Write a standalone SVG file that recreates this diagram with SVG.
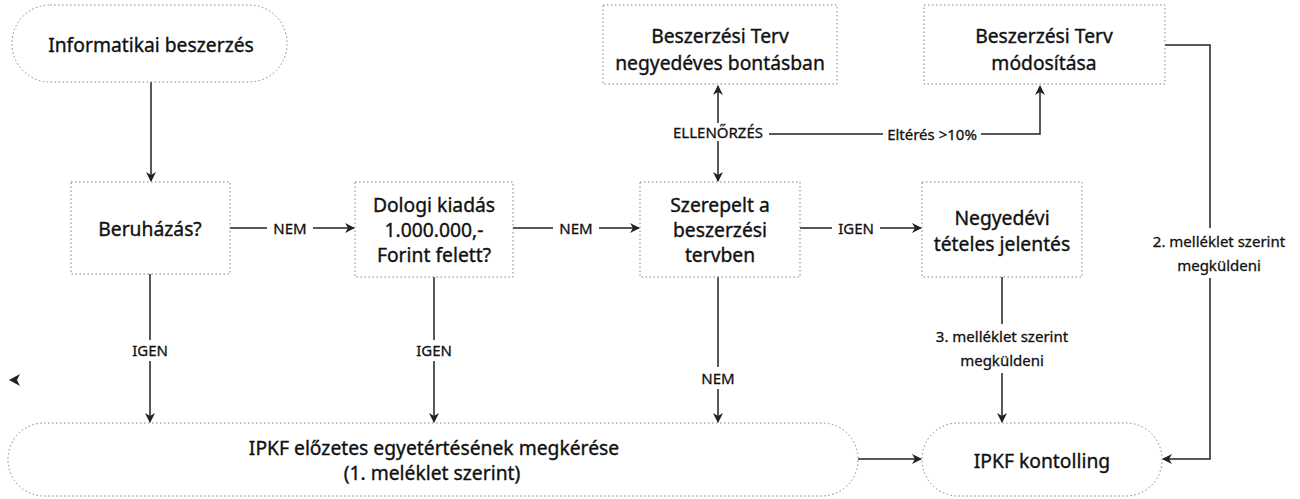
<svg xmlns="http://www.w3.org/2000/svg" width="1300" height="499" viewBox="0 0 1300 499">
<style>
.box{fill:#fff;stroke:#808080;stroke-width:1;stroke-dasharray:1.5 2.5}
.t{font-family:"Noto Sans","Open Sans",sans-serif;font-size:19.3px;fill:#111;stroke:#111;stroke-width:0.35px;text-anchor:middle;dominant-baseline:central}
.lbl{font-family:"Noto Sans","Open Sans",sans-serif;font-size:15px;fill:#111;stroke:#111;stroke-width:0.3px;text-anchor:middle;dominant-baseline:central}
.c{fill:none;stroke:#222;stroke-width:1.5}
</style>
<defs>
<marker id="ah" viewBox="0 0 10 10" refX="9" refY="5" markerWidth="10" markerHeight="10" markerUnits="userSpaceOnUse" orient="auto">
<path d="M0,0 L10,5 L0,10 L3,5 z" fill="#222"/>
</marker>
</defs>
<g id="connectors">
<path class="c" d="M151,82 V181" marker-end="url(#ah)"/>
<path class="c" d="M230,228 H267 M313,228 H354" marker-end="url(#ah)"/>
<path class="c" d="M513,228 H553 M599,228 H639" marker-end="url(#ah)"/>
<path class="c" d="M800,228 H832 M880,228 H921" marker-end="url(#ah)"/>
<path class="c" d="M150,274 V340 M150,361 V422" marker-end="url(#ah)"/>
<path class="c" d="M434,277 V340 M434,361 V422" marker-end="url(#ah)"/>
<path class="c" d="M718,277 V367 M718,389 V422" marker-end="url(#ah)"/>
<path class="c" d="M1002,277 V324 M1002,373 V422" marker-end="url(#ah)"/>
<path class="c" d="M858,459 H921" marker-end="url(#ah)"/>
<path class="c" d="M1165,45 H1210 V228 M1210,278 V459 H1163" marker-end="url(#ah)"/>
<path class="c" d="M718,123 V86" marker-end="url(#ah)"/>
<path class="c" d="M718,141 V181" marker-end="url(#ah)"/>
<path class="c" d="M769,134 H883 M981,134 H1040 V86" marker-end="url(#ah)"/>
<path d="M9,380 L20,374 L17,380 L20,386 z" fill="#222"/>
<text class="lbl" x="290" y="228">NEM</text>
<text class="lbl" x="576" y="228">NEM</text>
<text class="lbl" x="856" y="228">IGEN</text>
<text class="lbl" x="150" y="350">IGEN</text>
<text class="lbl" x="434" y="350">IGEN</text>
<text class="lbl" x="718" y="378">NEM</text>
<text class="lbl" x="1002" y="336">3. melléklet szerint</text>
<text class="lbl" x="1002" y="360">megküldeni</text>
<text class="lbl" x="1219" y="241">2. melléklet szerint</text>
<text class="lbl" x="1219" y="265">megküldeni</text>
<text class="lbl" x="718" y="132">ELLENŐRZÉS</text>
<text class="lbl" x="932" y="134">Eltérés &gt;10%</text>
</g>
<g id="n-informatikai">
<rect class="box" x="12" y="5" width="275" height="77" rx="38"/>
<text class="t" x="151" y="44">Informatikai beszerzés</text>
</g>
<g id="n-beruhazas">
<rect class="box" x="71" y="182" width="159" height="92"/>
<text class="t" x="150" y="228">Beruházás?</text>
</g>
<g id="n-dologi">
<rect class="box" x="355" y="182" width="158" height="95"/>
<text class="t" x="434" y="204">Dologi kiadás</text>
<text class="t" x="434" y="229">1.000.000,-</text>
<text class="t" x="434" y="254">Forint felett?</text>
</g>
<g id="n-szerepelt">
<rect class="box" x="640" y="182" width="160" height="95"/>
<text class="t" x="720" y="204">Szerepelt a</text>
<text class="t" x="720" y="229">beszerzési</text>
<text class="t" x="720" y="254">tervben</text>
</g>
<g id="n-negyedevi">
<rect class="box" x="922" y="182" width="160" height="95"/>
<text class="t" x="1002" y="217">Negyedévi</text>
<text class="t" x="1002" y="243">tételes jelentés</text>
</g>
<g id="n-terv-negyedeves">
<rect class="box" x="603" y="5" width="234" height="79"/>
<text class="t" x="720" y="35">Beszerzési Terv</text>
<text class="t" x="720" y="62">negyedéves bontásban</text>
</g>
<g id="n-terv-modositasa">
<rect class="box" x="924" y="5" width="241" height="79"/>
<text class="t" x="1044" y="35">Beszerzési Terv</text>
<text class="t" x="1044" y="62">módosítása</text>
</g>
<g id="n-ipkf-elozetes">
<rect class="box" x="8" y="423" width="850" height="73" rx="36"/>
<text class="t" x="434" y="447">IPKF előzetes egyetértésének megkérése</text>
<text class="t" x="432" y="472">(1. meléklet szerint)</text>
</g>
<g id="n-ipkf-kontolling">
<rect class="box" x="922" y="423" width="240" height="73" rx="36"/>
<text class="t" x="1042" y="460">IPKF kontolling</text>
</g>
</svg>
